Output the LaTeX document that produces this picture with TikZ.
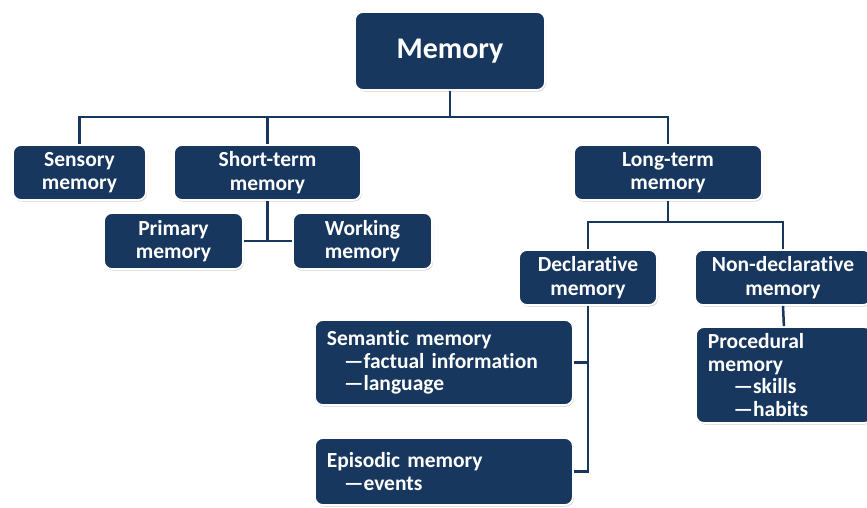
\documentclass[tikz,border=0pt]{standalone}
\usepackage{fontspec}
\setmainfont[Ligatures=NoCommon]{Carlito}
\usetikzlibrary{shadows}
\definecolor{navy}{HTML}{17375E}
\begin{document}
\begin{tikzpicture}[x=1pt,y=-1pt,
  box/.style={draw=white, line width=1.8pt, fill=navy, rounded corners=8pt, text=white,
    font=\bfseries\fontsize{21.5}{23.5}\selectfont, align=center, inner sep=0pt,
    drop shadow={opacity=0.35, shadow xshift=1pt, shadow yshift=-1.5pt}},
  lbox/.style={box, align=left, inner xsep=12pt, anchor=west, font=\bfseries\fontsize{21.5}{22.5}\selectfont},
  link/.style={draw=navy, line width=2.5pt}]
\useasboundingbox (0,0) rectangle (867,507);
\fill[white] (0,0) rectangle (867,507);

\node[box, minimum width=190pt, minimum height=78pt, font=\bfseries\fontsize{30}{34}\selectfont] (mem) at (450,51) {Memory};
\node[box, minimum width=133pt, minimum height=55pt] (sens) at (79.5,172.5) {Sensory\\memory};
\node[box, minimum width=187pt, minimum height=55pt] (st) at (267.5,172.5) {Short-term\\memory};
\node[box, minimum width=139pt, minimum height=56pt] (pm) at (173.5,241) {Primary\\memory};
\node[box, minimum width=139pt, minimum height=56pt] (wm) at (362.5,241) {Working\\memory};
\node[box, minimum width=188pt, minimum height=55pt] (lt) at (668,172.5) {Long-term\\memory};
\node[box, minimum width=138pt, minimum height=55pt] (dec) at (588,277.5) {Declarative\\memory};
\node[box, minimum width=176pt, minimum height=55pt] (nd) at (783,277.5) {Non-declarative\\memory};
\node[lbox, text width=234pt, minimum height=85pt] (sem) at (314,362.5) {Semantic memory\\\hspace*{0.8em}—factual information\\\hspace*{0.8em}—language};
\node[lbox, text width=234pt, minimum height=67pt] (epi) at (314,471.5) {Episodic memory\\\hspace*{0.8em}—events};
\node[lbox, text width=152pt, minimum height=96pt] (proc) at (695,375) {Procedural\\memory\\\hspace*{1.2em}—skills\\\hspace*{1.2em}—habits};

\coordinate (j1) at (450,117);
\coordinate (j3) at (668,222);
\draw[link] (mem.south) -- (j1);
\draw[link] (sens.north) -- (sens.north |- j1) -- (lt.north |- j1) -- (lt.north);
\draw[link] (st.north) -- (st.north |- j1);
\draw[link] (st.south) -- (st.south |- pm.east);
\draw[link] (pm.east) -- (wm.west);
\draw[link] (lt.south) -- (j3);
\draw[link] (dec.north) -- (dec.north |- j3) -- (nd.north |- j3) -- (nd.north);
\draw[link] (dec.south) -- (dec.south |- epi.east) -- (epi.east);
\draw[link] (sem.east) -- (sem.east -| dec.south);
\draw[link] (nd.south) -- (proc.north);
\end{tikzpicture}
\end{document}
